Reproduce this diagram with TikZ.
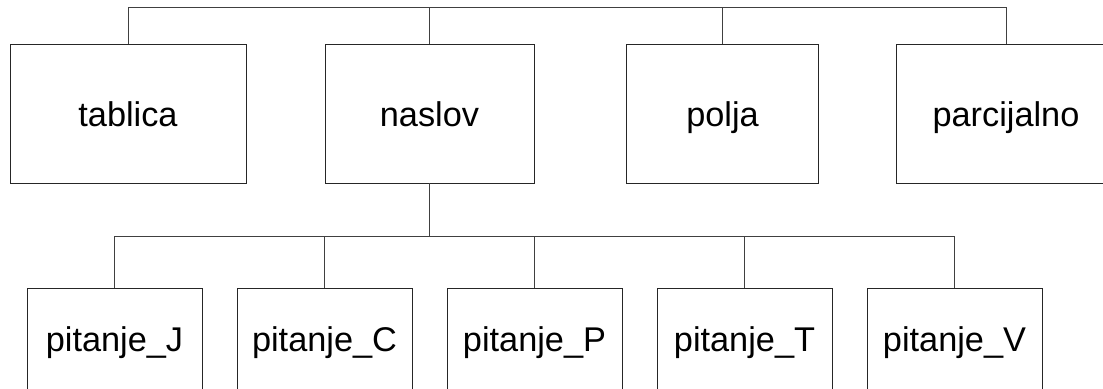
\documentclass[tikz,border=0pt]{standalone}
\usepackage{fontspec}
\setmainfont{Liberation Sans}
\usepackage{tikz}
\usetikzlibrary{positioning,calc}

\begin{document}
\begin{tikzpicture}[x=0.025cm,y=-0.025cm,line join=miter,
  box/.style={draw=black!85,line width=0.6pt,inner sep=0pt,
    font=\fontsize{24.4}{29}\selectfont,text height=18pt,text depth=0pt},
  topbox/.style={box,minimum height=3.475cm},
  lowbox/.style={box,minimum height=2.55cm,minimum width=4.375cm},
  link/.style={draw=black!75,line width=0.6pt}]

  % ===== frame of the cropped picture =====
  \useasboundingbox (0,0) rectangle (1103,388);

  %% ---------------------------------------------------------------
  %% upper row
  %% ---------------------------------------------------------------
  \node[topbox,minimum width=5.9cm]   (tab) at (128,113.5)   {tablica};
  \node[topbox,minimum width=5.225cm] (nas) at (429.5,113.5) {naslov};
  \node[topbox,minimum width=4.8cm]   (pol) at (722.5,113.5) {polja};
  \node[topbox,minimum width=5.5cm]   (par) at (1006,113.5)  {parcijalno};

  % bus above the upper row
  \coordinate (topbus) at (567,7);
  \draw[link] (tab.north) -- (tab.north |- topbus) -- (par.north |- topbus) -- (par.north);
  \draw[link] (nas.north) -- (nas.north |- topbus);
  \draw[link] (pol.north) -- (pol.north |- topbus);

  %% ---------------------------------------------------------------
  %% lower row (children of naslov)
  %% ---------------------------------------------------------------
  \foreach \k/\lbl [count=\i from 0] in {J/pitanje\_J,C/pitanje\_C,P/pitanje\_P,T/pitanje\_T,V/pitanje\_V}
    \node[lowbox] (p\k) at (114.5+210*\i,339) {\lbl};

  % bus above the lower row
  \coordinate (lowbus) at (429.5,236);
  \draw[link] (nas.south) -- (nas.south |- lowbus);
  \draw[link] (pJ.north) -- (pJ.north |- lowbus) -- (pV.north |- lowbus) -- (pV.north);
  \foreach \k in {C,P,T}
    \draw[link] (p\k.north) -- (p\k.north |- lowbus);

\end{tikzpicture}
\end{document}
